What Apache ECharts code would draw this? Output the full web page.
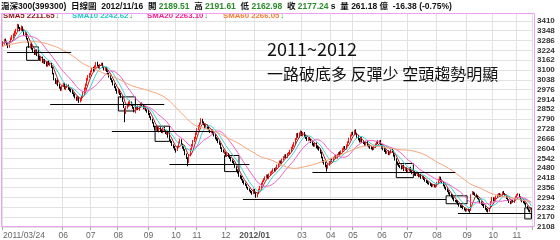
<!DOCTYPE html>
<html><head><meta charset="utf-8">
<script src="https://cdn.jsdelivr.net/npm/echarts@6/dist/echarts.min.js"></script>
<style>html,body{margin:0;padding:0;background:#fff}#c{width:560px;height:240px}</style>
</head><body><div id="c"></div>
<script>
// ---- trading calendar (month, trading days) ----
const tradingDays = [
 ['2011/03','24 25 28 29 30 31'],
 ['2011/04','1 6 7 8 11 12 13 14 15 18 19 20 21 22 25 26 27 28 29'],
 ['2011/05','3 4 5 6 9 10 11 12 13 16 17 18 19 20 23 24 25 26 27 30 31'],
 ['2011/06','1 2 3 7 8 9 10 13 14 15 16 17 20 21 22 23 24 27 28 29 30'],
 ['2011/07','1 4 5 6 7 8 11 12 13 14 15 18 19 20 21 22 25 26 27 28 29'],
 ['2011/08','1 2 3 4 5 8 9 10 11 12 15 16 17 18 19 22 23 24 25 26 29 30 31'],
 ['2011/09','1 2 5 6 7 8 9 13 14 15 16 19 20 21 22 23 26 27 28 29 30'],
 ['2011/10','10 11 12 13 14 17 18 19 20 21 24 25 26 27 28 31'],
 ['2011/11','1 2 3 4 7 8 9 10 11 14 15 16 17 18 21 22 23 24 25 28 29 30'],
 ['2011/12','1 2 5 6 7 8 9 12 13 14 15 16 19 20 21 22 23 26 27 28 29 30'],
 ['2012/01','4 5 6 9 10 11 12 13 16 17 18 19 20 30 31'],
 ['2012/02','1 2 3 6 7 8 9 10 13 14 15 16 17 20 21 22 23 24 27 28 29'],
 ['2012/03','1 2 5 6 7 8 9 12 13 14 15 16 19 20 21 22 23 26 27 28 29 30'],
 ['2012/04','5 6 9 10 11 12 13 16 17 18 19 20 23 24 25 26 27'],
 ['2012/05','2 3 4 7 8 9 10 11 14 15 16 17 18 21 22 23 24 25 28 29 30 31'],
 ['2012/06','1 4 5 6 7 8 11 12 13 14 15 18 19 20 21 25 26 27 28 29'],
 ['2012/07','2 3 4 5 6 9 10 11 12 13 16 17 18 19 20 23 24 25 26 27 30 31'],
 ['2012/08','1 2 3 6 7 8 9 10 13 14 15 16 17 20 21 22 23 24 27 28 29 30 31'],
 ['2012/09','3 4 5 6 7 10 11 12 13 14 17 18 19 20 21 24 25 26 27 28'],
 ['2012/10','8 9 10 11 12 15 16 17 18 19 22 23 24 25 26 29 30 31'],
 ['2012/11','1 2 5 6 7 8 9 12 13 14 15 16']
];
const unlabeledMonths = ['2011/04','2011/05','2012/02'];

// ---- daily prices ----
const opens = [
3255,3268,3290,3278,3265,3245,3282,3298,3308,3322, 3338,3350,3380,3365,3350,3370,3348,3318,3332,3295,
3278,3242,3265,3232,3220,3200,3225,3190,3182,3160, 3178,3148,3165,3142,3128,3155,3130,3140,3115,3078,
3040,3015,3032,3002,2985,2975,2998,3012,2980,2990, 3002,2985,2972,2970,2952,2945,2925,2912,2928,2900,
2912,2938,2958,2982,3008,3040,3062,3072,3092,3112, 3098,3122,3145,3125,3115,3130,3140,3115,3100,3112,
3092,3075,3062,3040,3030,3008,2992,2978,2958,2972, 2948,2925,2895,2850,2830,2862,2878,2890,2895,2878,
2860,2835,2852,2868,2850,2868,2888,2875,2855,2868, 2845,2842,2822,2800,2788,2765,2742,2722,2738,2712,
2730,2722,2708,2732,2712,2698,2705,2678,2658,2648, 2625,2615,2598,2595,2618,2638,2658,2628,2612,2595,
2568,2542,2518,2562,2600,2622,2652,2668,2698,2728, 2742,2762,2785,2768,2755,2738,2748,2735,2722,2708,
2718,2702,2690,2668,2662,2642,2632,2608,2592,2575, 2578,2558,2570,2550,2545,2528,2522,2505,2488,2468,
2452,2430,2425,2408,2398,2380,2372,2358,2348,2338, 2330,2318,2342,2322,2300,2320,2345,2362,2380,2398,
2408,2422,2435,2415,2438,2450,2458,2472,2462,2478, 2495,2506,2522,2512,2535,2546,2562,2550,2572,2570,
2588,2608,2622,2638,2662,2695,2678,2698,2710,2688, 2702,2685,2675,2655,2670,2660,2645,2632,2620,2638,
2615,2608,2600,2578,2548,2525,2512,2498,2482,2502, 2518,2538,2525,2548,2556,2545,2566,2578,2568,2588,
2598,2612,2602,2625,2642,2668,2685,2702,2692,2715, 2698,2682,2665,2648,2670,2648,2642,2628,2645,2622,
2620,2612,2608,2598,2612,2628,2648,2638,2652,2632, 2612,2600,2592,2575,2588,2568,2578,2598,2588,2562,
2538,2518,2508,2492,2495,2478,2498,2468,2480,2458, 2462,2482,2462,2448,2458,2442,2435,2448,2428,2438,
2418,2428,2412,2402,2395,2386,2384,2378,2366,2374, 2362,2368,2386,2402,2422,2402,2392,2372,2358,2348,
2336,2322,2315,2302,2292,2275,2274,2268,2256,2244, 2238,2236,2228,2218,2210,2218,2214,2212,2318,2326,
2320,2314,2302,2288,2280,2266,2256,2250,2236,2224, 2218,2208,2228,2268,2290,2276,2292,2298,2310,2318,
2302,2310,2328,2318,2308,2292,2280,2268,2258,2272, 2265,2284,2298,2312,2312,2296,2282,2268,2266,2256,
2238,2220,2212,2189.51];
const closes = [
3270,3286,3280,3262,3250,3278,3300,3312,3325,3340, 3352,3376,3368,3355,3372,3345,3325,3330,3298,3280,
3248,3262,3235,3218,3204,3220,3192,3180,3165,3175, 3152,3160,3146,3130,3150,3138,3140,3118,3080,3044,
3020,3030,3005,2990,2981,2996,3010,2985,2993,3005, 2982,2975,2968,2955,2940,2928,2917,2930,2904,2915,
2936,2960,2985,3010,3044,3060,3075,3090,3108,3100, 3125,3140,3128,3120,3132,3136,3118,3105,3110,3095,
3078,3060,3045,3032,3010,2995,2975,2962,2975,2950, 2930,2905,2870,2840,2866,2880,2895,2898,2880,2862,
2840,2850,2865,2853,2870,2885,2879,2860,2865,2848, 2840,2825,2805,2790,2770,2745,2726,2735,2718,2728,
2720,2712,2730,2715,2702,2707,2680,2660,2645,2630, 2612,2600,2586,2615,2640,2656,2630,2610,2598,2570,
2545,2520,2560,2598,2625,2650,2670,2700,2726,2745, 2760,2783,2770,2758,2740,2750,2732,2726,2710,2720,
2700,2688,2670,2660,2645,2635,2610,2590,2585,2579, 2560,2572,2555,2547,2530,2520,2509,2490,2470,2455,
2432,2420,2410,2395,2385,2376,2360,2350,2340,2331, 2320,2345,2325,2305,2318,2344,2360,2382,2395,2410,
2420,2433,2418,2440,2452,2458,2470,2465,2480,2497, 2505,2520,2515,2535,2548,2560,2552,2570,2573,2590,
2610,2624,2640,2665,2694,2680,2700,2707,2690,2700, 2681,2672,2660,2668,2662,2645,2630,2624,2635,2612,
2605,2598,2580,2550,2522,2510,2495,2484,2500,2520, 2535,2528,2545,2554,2548,2565,2575,2570,2586,2600,
2610,2605,2624,2645,2665,2688,2700,2695,2713,2700, 2680,2662,2650,2668,2645,2640,2630,2642,2625,2618,
2610,2605,2600,2615,2630,2645,2640,2649,2630,2610, 2598,2590,2579,2585,2570,2580,2595,2586,2560,2535,
2515,2505,2495,2490,2480,2495,2470,2478,2462,2465, 2480,2460,2450,2455,2440,2439,2445,2430,2435,2420,
2427,2410,2400,2392,2385,2382,2375,2368,2372,2365, 2369,2385,2405,2420,2400,2390,2370,2356,2345,2335,
2320,2312,2300,2290,2279,2272,2266,2254,2242,2237, 2234,2227,2217,2212,2216,2212,2205,2310,2325,2318,
2312,2300,2290,2278,2265,2255,2248,2235,2222,2216, 2210,2225,2265,2293,2275,2290,2300,2308,2315,2305,
2312,2325,2321,2310,2289.8,2278,2265,2260,2270,2268, 2282,2300,2310,2313,2295,2280,2270,2265,2258,2240,
2222,2210,2209,2177.24];
const highs = [
3282,3295,3298,3284,3270,3283,3306,3320,3332,3348, 3360,3392,3388,3372,3380,3375,3352,3338,3336,3302,
3282,3268,3270,3240,3226,3228,3230,3198,3188,3182, 3185,3168,3170,3150,3156,3160,3148,3145,3120,3082,
3048,3038,3040,3010,2995,3002,3018,3020,3000,3012, 3008,2992,2980,2975,2958,2950,2932,2938,2932,2922,
2942,2965,2990,3015,3050,3068,3082,3098,3118,3120, 3130,3150,3152,3132,3138,3145,3146,3122,3118,3118,
3098,3082,3068,3048,3035,3015,2998,2982,2982,2978, 2955,2930,2900,2858,2872,2888,2902,2910,2900,2885,
2866,2858,2872,2875,2876,2892,2895,2880,2872,2870, 2852,2848,2828,2808,2792,2770,2748,2742,2742,2735,
2738,2728,2738,2740,2718,2715,2710,2682,2662,2652, 2630,2620,2604,2622,2648,2665,2662,2635,2618,2600,
2572,2548,2565,2605,2632,2658,2678,2706,2732,2752, 2768,2795,2792,2775,2760,2758,2755,2740,2728,2725,
2724,2710,2695,2675,2668,2650,2638,2612,2598,2590, 2582,2578,2575,2558,2550,2535,2525,2510,2492,2472,
2458,2438,2430,2412,2402,2388,2378,2362,2352,2342, 2335,2350,2348,2328,2325,2350,2368,2388,2402,2416,
2428,2440,2440,2446,2458,2465,2478,2480,2486,2502, 2512,2528,2528,2540,2555,2566,2568,2576,2582,2596,
2615,2630,2645,2670,2700,2702,2706,2718,2715,2708, 2708,2690,2680,2675,2675,2665,2650,2638,2640,2642,
2622,2615,2605,2582,2552,2530,2518,2502,2505,2525, 2542,2545,2552,2560,2562,2570,2582,2585,2592,2606,
2618,2620,2630,2650,2672,2692,2708,2710,2722,2725, 2704,2688,2670,2675,2675,2652,2648,2648,2650,2628,
2625,2618,2612,2620,2636,2652,2655,2656,2658,2636, 2618,2606,2598,2590,2592,2585,2600,2604,2592,2566,
2542,2522,2512,2500,2498,2500,2502,2485,2484,2470, 2486,2488,2466,2460,2462,2448,2450,2452,2440,2442,
2432,2432,2415,2405,2400,2390,2388,2382,2378,2378, 2375,2392,2410,2428,2426,2408,2396,2376,2362,2352,
2340,2328,2318,2308,2296,2280,2280,2272,2260,2250, 2245,2240,2232,2222,2222,2224,2220,2315,2335,2332,
2326,2318,2306,2292,2284,2270,2262,2255,2240,2228, 2224,2230,2270,2298,2296,2295,2306,2314,2322,2322,
2318,2332,2335,2322,2312,2296,2284,2272,2276,2278, 2288,2305,2316,2322,2318,2300,2286,2274,2270,2260,
2242,2226,2218,2191.61];
const lows = [
3248,3260,3272,3255,3238,3240,3275,3290,3302,3315, 3330,3345,3360,3345,3345,3340,3318,3310,3292,3272,
3240,3236,3228,3210,3195,3195,3188,3172,3158,3155, 3145,3140,3138,3122,3120,3130,3124,3112,3072,3035,
3012,3008,2998,2982,2968,2970,2992,2978,2972,2985, 2975,2966,2958,2948,2932,2920,2905,2906,2892,2895,
2905,2930,2952,2975,3000,3032,3050,3065,3085,3092, 3090,3115,3122,3110,3108,3125,3112,3098,3095,3088,
3070,3052,3038,3022,3002,2985,2968,2950,2952,2942, 2922,2898,2860,2770,2822,2855,2870,2882,2872,2855,
2832,2826,2845,2846,2842,2862,2872,2852,2850,2840, 2830,2815,2798,2782,2762,2738,2718,2715,2710,2705,
2712,2702,2700,2708,2695,2690,2672,2652,2638,2620, 2605,2592,2578,2588,2612,2632,2625,2602,2590,2562,
2538,2492,2512,2555,2595,2615,2645,2662,2690,2720, 2735,2755,2762,2750,2732,2730,2725,2718,2702,2700,
2692,2680,2662,2652,2638,2628,2602,2582,2578,2568, 2552,2550,2548,2538,2522,2512,2500,2482,2462,2446,
2425,2412,2402,2386,2376,2368,2352,2342,2332,2322, 2312,2315,2318,2293,2295,2315,2340,2355,2375,2392,
2402,2415,2410,2410,2432,2445,2452,2460,2458,2472, 2488,2500,2508,2508,2530,2540,2545,2545,2565,2565,
2582,2600,2615,2632,2658,2672,2672,2690,2682,2680, 2675,2665,2652,2650,2655,2638,2622,2615,2615,2605,
2598,2590,2572,2542,2515,2502,2485,2458,2476,2496, 2512,2520,2520,2542,2542,2540,2560,2562,2562,2582,
2592,2598,2598,2620,2638,2660,2680,2688,2688,2695, 2672,2655,2642,2642,2640,2632,2622,2622,2618,2610,
2602,2598,2592,2594,2608,2622,2632,2632,2625,2602, 2592,2582,2570,2570,2562,2562,2572,2580,2552,2528,
2508,2498,2488,2480,2472,2474,2462,2462,2455,2450, 2458,2455,2442,2442,2432,2430,2430,2422,2422,2412,
2412,2405,2394,2386,2378,2375,2368,2360,2362,2358, 2355,2362,2380,2398,2395,2384,2365,2350,2340,2328,
2314,2305,2294,2282,2270,2265,2260,2248,2236,2230, 2228,2220,2212,2205,2206,2206,2198,2210,2312,2310,
2305,2294,2284,2270,2258,2248,2240,2228,2216,2205, 2200,2204,2225,2262,2270,2270,2285,2292,2305,2300,
2298,2305,2315,2305,2285,2272,2260,2252,2254,2262, 2260,2280,2292,2305,2290,2275,2264,2258,2250,2235,
2218,2205,2200,2162.98];

// ---- moving averages shown ----
const maPeriods = [5, 10, 20, 60];
const maNames = ['SMA5', 'SMA10', 'SMA20', 'SMA60'];
const maLegendValues = ['2211.65', '2242.62', '2263.10', '2266.05'];
// SMA60 as drawn in the picture for the first 59 days (its 60-day window starts before the chart)
const sma60Lead = [
3250,3252,3255,3257,3259,3261,3263,3265,3266,3268, 3269,3271,3272,3273,3274,3275,3276,3277,3277,3278,
3278,3279,3279,3279,3279,3278,3278,3277,3276,3275, 3273,3271,3269,3267,3265,3262,3259,3256,3253,3250,
3248,3245,3241,3237,3233,3229,3224,3219,3215,3210, 3205,3200,3195,3189,3184,3178,3172,3166,3159];

// ---- y axis ticks ----
const yMin = 2108, yMax = 3460, yStep = 62;

// ---- drawn annotations: support lines [fromIdx, toIdx, price], boxes [fromIdx, toIdx, low, high] ----
const supportLines = [[3,52,3214],[36,123,2881],[83,159,2711],[127,188,2507],[183,338,2286],[236,345,2456],[347,403,2197]];
const boxes = [[18,27,3161,3246],[88,101,2841,2930],[116,127,2649,2745],[169,180,2458,2560],[300,313,2420,2509],[338,354,2255,2305],[398,403,2159,2229]];

// ---- texts ----
const headerParts = {name:'滬深300(399300)', kind:'日線圖', date:'2012/11/16', open:'2189.51', high:'2191.61', low:'2162.98', close:'2177.24', vol:'261.18', chg:'-16.38 (-0.75%)'};
const noteTitle = '2011~2012';
const noteText = '一路破底多 反彈少 空頭趨勢明顯';

// ---- build ----
const dates = [], labelAt = {};
tradingDays.forEach(([m, ds]) => {
  ds.split(' ').forEach((d, k) => {
    const idx = dates.length;
    dates.push(m + '/' + (d.length < 2 ? '0' + d : d));
    if (k === 0 && unlabeledMonths.indexOf(m) < 0) {
      const mm = m.slice(5);
      labelAt[idx] = idx === 0 ? dates[0] : (mm === '01' ? '{b|' + m + '}' : mm);
    }
  });
});
const ohlc = closes.map((c, i) => [opens[i], c, lows[i], highs[i]]);
function sma(n, lead) {
  return closes.map((_, i) => {
    if (i < n - 1 && lead) return lead[i];
    const s = Math.max(0, i - n + 1); let sum = 0;
    for (let k = s; k <= i; k++) sum += closes[k];
    return +(sum / (i - s + 1)).toFixed(2);
  });
}
const maColors = ['#9b1b1b', '#3fd0d0', '#f060c8', '#f5a57a'];
const maLegendColors = ['#8b1010', '#20c8c8', '#f0208c', '#f08030'];
const showIdx = (i) => labelAt[i] !== undefined;

const chart = echarts.init(document.getElementById('c'), null, {renderer: 'canvas'});
const sans = "'Liberation Sans', Arial, 'Noto Sans CJK TC', sans-serif";
const hs = 8.5;
const titles = [
  {left: 1, top: 2, padding: 0, textStyle: {fontSize: hs, fontFamily: sans, color: '#000',
    rich: {n: {fontSize: hs, fontFamily: sans, color: '#111'}, b: {fontSize: hs, fontWeight: 'bold', fontFamily: sans, color: '#111'},
           g: {fontSize: hs, fontWeight: 'bold', fontFamily: sans, color: '#2a8c2a'}}},
   text: '{n|' + headerParts.name + '}  {n|' + headerParts.kind + '}  {b|' + headerParts.date + '}  {n|開} {g|' + headerParts.open +
     '}  {n|高} {g|' + headerParts.high + '}  {n|低} {g|' + headerParts.low + '}  {n|收} {g|' + headerParts.close +
     '} {b|s}  {b|量 ' + headerParts.vol + ' 億}  {b|' + headerParts.chg + '}'}
];
const legendX = [3, 72, 147, 223];
maNames.forEach((nm, k) => titles.push({left: legendX[k], top: 12, padding: 0,
  text: '{a|' + nm + ' ' + maLegendValues[k] + '}{d|↓}',
  textStyle: {rich: {a: {fontSize: 7.8, fontFamily: sans, color: maLegendColors[k]}, d: {fontSize: 7.5, color: '#1a8a1a', fontWeight: 'bold', padding: [0,0,0,1]}}}}));
titles.push({left: 267, top: 40, padding: 0, text: noteTitle, textStyle: {fontSize: 18, fontWeight: 'normal', fontFamily: 'Noto Sans CJK TC', color: '#111'}});
titles.push({left: 267, top: 66, padding: 0, text: noteText, textStyle: {fontSize: 16, fontWeight: 'normal', fontFamily: 'Noto Sans CJK TC', color: '#111'}});

const series = [{
  type: 'candlestick', data: ohlc, barWidth: 1.3,
  itemStyle: {color: '#ff1010', color0: '#000', borderColor: '#ff1010', borderColor0: '#000', borderWidth: 1},
  markLine: {silent: true, symbol: ['none', 'none'], label: {show: false}, lineStyle: {color: '#000', width: 1, type: 'solid'},
    data: supportLines.map(([a, b, v]) => [{coord: [a, v]}, {coord: [b, v]}])},
  markArea: {silent: true, itemStyle: {color: 'rgba(0,0,0,0)', borderColor: '#000', borderWidth: 1},
    data: boxes.map(([a, b, lo, hi]) => [{coord: [a, hi]}, {coord: [b, lo]}])}
}];
maPeriods.forEach((n, k) => series.push({type: 'line', data: sma(n, n === 60 ? sma60Lead : null), symbol: 'none', silent: true,
  lineStyle: {width: 1, color: maColors[k]}, z: 3}));

chart.setOption({
  animation: false,
  backgroundColor: '#fff',
  title: titles,
  grid: {left: 1, right: 28, top: 13, bottom: 13},
  xAxis: {type: 'category', data: dates, boundaryGap: true,
    axisLine: {show: false},
    axisTick: {show: true, interval: showIdx, length: 3, lineStyle: {color: '#aaa'}},
    axisLabel: {interval: showIdx, formatter: (v, i) => labelAt[i] || '', fontSize: 8.5, color: '#666', margin: 4,
      fontFamily: sans, alignMinLabel: 'left', rich: {b: {fontSize: 8.5, fontWeight: 'bold', color: '#555', fontFamily: sans}}},
    splitLine: {show: true, interval: showIdx, lineStyle: {color: '#e2e2e2', width: 1}}},
  yAxis: {type: 'value', position: 'right', min: yMin, max: yMax, interval: yStep, scale: true,
    axisLine: {show: false}, axisTick: {show: false},
    axisLabel: {showMaxLabel: false, formatter: (v) => String(v), fontSize: 8, fontWeight: 'bold', color: '#333', margin: 5, fontFamily: sans},
    splitLine: {lineStyle: {color: '#e2e2e2', width: 1}}},
  graphic: [{type: 'rect', silent: true, z: 100,
    shape: {x: 1.5, y: 13.5, width: 533, height: 213}, style: {fill: 'none', stroke: '#f0a0f0', lineWidth: 1}}],
  series: series
});
</script>
</body></html>
